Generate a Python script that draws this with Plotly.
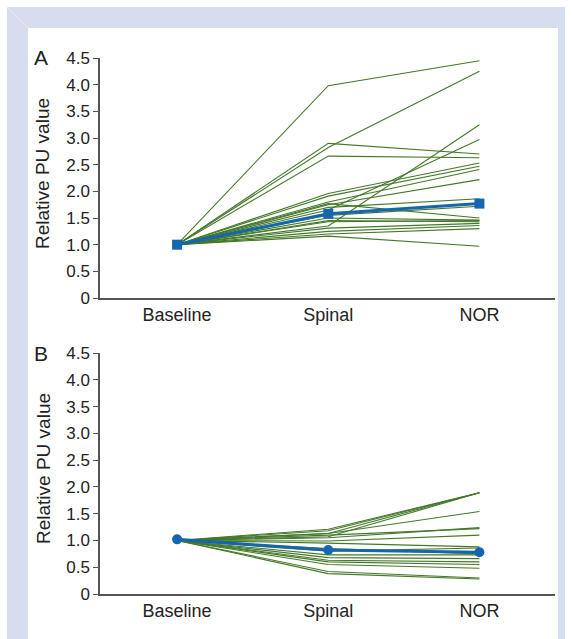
import plotly.graph_objects as go

# Time points
stages = ["Baseline", "Spinal", "NOR"]

# Panel A: individual relative PU values (Baseline, Spinal, NOR)
a_spinal = [3.98, 2.82, 2.90, 2.66, 1.35, 1.65, 1.96, 1.91, 1.80, 1.75,
            1.70, 1.77, 1.50, 1.43, 1.45, 1.31, 1.25, 1.20, 1.16, 1.55]
a_nor = [4.45, 4.25, 2.70, 2.63, 3.25, 2.97, 2.53, 2.47, 2.41, 2.22,
         1.86, 1.50, 1.46, 1.45, 1.43, 1.40, 1.36, 1.30, 0.97, 1.72]
a_summary = [1.0, 1.58, 1.77]

# Panel B: individual relative PU values
b_spinal = [1.21, 1.18, 1.13, 1.07, 1.13, 1.05, 1.10, 0.99, 0.95, 0.80,
            0.73, 0.68, 0.63, 0.60, 0.55, 0.42, 0.38, 0.85]
b_nor = [1.89, 1.89, 1.89, 1.89, 1.54, 1.24, 1.22, 1.10, 0.88, 0.86,
         0.73, 0.66, 0.60, 0.55, 0.48, 0.30, 0.28, 0.75]
b_summary = [1.02, 0.82, 0.78]

y_ticks = [0, 0.5, 1.0, 1.5, 2.0, 2.5, 3.0, 3.5, 4.0, 4.5]
y_ticktext = ["0", "0.5", "1.0", "1.5", "2.0", "2.5", "3.0", "3.5", "4.0", "4.5"]

W, H = 572, 639
GREEN = "#447829"
BLUE = "#1566b0"
FONT = "Liberation Sans, Arial, sans-serif"


def px_x(p):
    return p / W


def px_y(p):
    return 1 - p / H


fig = go.Figure()

panels = [
    (a_spinal, a_nor, a_summary, "square", "x", "y"),
    (b_spinal, b_nor, b_summary, "circle", "x2", "y2"),
]
for spinal, nor, summary, symbol, xa, ya in panels:
    for s, n in zip(spinal, nor):
        fig.add_trace(go.Scatter(
            x=stages, y=[1.0, s, n], mode="lines",
            line=dict(color=GREEN, width=1.1),
            xaxis=xa, yaxis=ya, showlegend=False, hoverinfo="skip",
        ))
    fig.add_trace(go.Scatter(
        x=stages, y=summary, mode="lines+markers",
        line=dict(color=BLUE, width=3),
        marker=dict(symbol=symbol, size=10, color=BLUE),
        xaxis=xa, yaxis=ya, showlegend=False, cliponaxis=False,
    ))

x_dom = [px_x(100), px_x(555)]
common_x = dict(
    type="category", range=[-0.51, 2.5], domain=x_dom,
    showline=True, linecolor="#555555", linewidth=1.5,
    ticks="", showgrid=False, zeroline=False, automargin=False,
    tickfont=dict(family=FONT, size=18, color="#222222"),
    ticklabelstandoff=0,
)
common_y = dict(
    range=[0, 4.5], tickvals=y_ticks, ticktext=y_ticktext,
    showline=True, linecolor="#555555", linewidth=1.5,
    ticks="outside", ticklen=5, tickcolor="#555555", tickwidth=1.2,
    showgrid=False, zeroline=False, automargin=False,
    tickfont=dict(family=FONT, size=17, color="#222222"),
)


def label(text, x, y, size, angle=0):
    return dict(text=text, x=px_x(x), y=px_y(y), xref="paper", yref="paper",
                xanchor="center", yanchor="middle", showarrow=False,
                textangle=angle, font=dict(family=FONT, size=size, color="#222222"))


fig.update_layout(
    width=W, height=H,
    margin=dict(l=0, r=0, t=0, b=0, autoexpand=False),
    paper_bgcolor="white", plot_bgcolor="rgba(0,0,0,0)",
    xaxis=dict(common_x, anchor="y"),
    yaxis=dict(common_y, domain=[px_y(298), px_y(58)], anchor="x"),
    xaxis2=dict(common_x, anchor="y2"),
    yaxis2=dict(common_y, domain=[px_y(594), px_y(353)], anchor="x2"),
    shapes=[
        dict(type="rect", xref="paper", yref="paper", layer="below",
             x0=px_x(7), x1=px_x(565), y0=px_y(645), y1=px_y(7),
             fillcolor="#d5ddef", line=dict(width=0)),
        dict(type="rect", xref="paper", yref="paper", layer="below",
             x0=px_x(28), x1=px_x(558), y0=px_y(645), y1=px_y(28),
             fillcolor="white", line=dict(width=0)),
        dict(type="line", xref="paper", yref="paper", layer="below",
             x0=px_x(7), y0=px_y(7), x1=px_x(28), y1=px_y(28),
             line=dict(color="#e6ebf6", width=1)),
    ],
    annotations=[
        label("A", 41, 58, 21),
        label("B", 41, 353, 21),
        label("Relative PU value", 43, 174, 19, -90),
        label("Relative PU value", 43, 469, 19, -90),
    ],
)

fig.write_html(
    "out.html",
    post_script="document.body.style.margin='0';document.body.style.padding='0';",
)
